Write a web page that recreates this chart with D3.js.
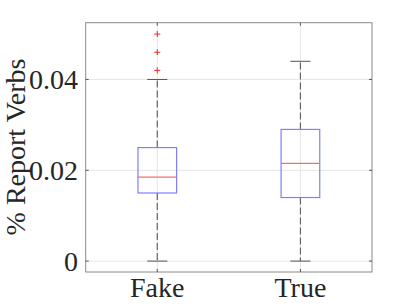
<!DOCTYPE html>
<html><head><meta charset="utf-8">
<script src="https://cdn.jsdelivr.net/npm/d3@7"></script>
<style>body{margin:0;background:#fff}svg{display:block}</style>
</head><body>
<script>
const categories = ["Fake", "True"];
const q1 = [0.0150, 0.0140];
const medians = [0.0185, 0.0215];
const q3 = [0.0250, 0.0290];
const whiskerLow = [0.0, 0.0];
const whiskerHigh = [0.0400, 0.0440];
const outliers = [[0.0420, 0.0460, 0.0500], []];
const yTicks = [0, 0.02, 0.04];
const yTickLabels = ["0", "0.02", "0.04"];

const W = 411, H = 308;
const L = 85.7, R = 372, T = 22.7, B = 272;
const svg = d3.select("body").append("svg").attr("width", W).attr("height", H);
const font = "'Liberation Serif','Times New Roman',serif";
const fs = 28;

const x = d3.scaleLinear().domain([0.5, 2.5]).range([L, R]);
const y = d3.scaleLinear().domain([-0.0024, 0.0525]).range([B, T]);

// grid
const g = svg.append("g");
yTicks.forEach(v => g.append("line").attr("x1", L).attr("x2", R).attr("y1", y(v)).attr("y2", y(v))
  .attr("stroke", "#e6e6e6").attr("stroke-width", 1));
categories.forEach((c, i) => g.append("line").attr("x1", x(i + 1)).attr("x2", x(i + 1)).attr("y1", T).attr("y2", B)
  .attr("stroke", "#e6e6e6").attr("stroke-width", 1));

const boxHalf = 0.135, capHalf = 0.07;
categories.forEach((c, i) => {
  const cx = x(i + 1);
  // whiskers
  svg.append("line").attr("x1", cx).attr("x2", cx).attr("y1", y(q3[i])).attr("y2", y(whiskerHigh[i]))
    .attr("stroke", "#666").attr("stroke-width", 1.2).attr("stroke-dasharray", "7,3");
  svg.append("line").attr("x1", cx).attr("x2", cx).attr("y1", y(q1[i])).attr("y2", y(whiskerLow[i]))
    .attr("stroke", "#666").attr("stroke-width", 1.2).attr("stroke-dasharray", "7,3");
  [whiskerHigh[i], whiskerLow[i]].forEach(v => svg.append("line")
    .attr("x1", x(i + 1 - capHalf)).attr("x2", x(i + 1 + capHalf)).attr("y1", y(v)).attr("y2", y(v))
    .attr("stroke", "#555").attr("stroke-width", 1));
  // box
  svg.append("rect").attr("x", x(i + 1 - boxHalf)).attr("width", x(i + 1 + boxHalf) - x(i + 1 - boxHalf))
    .attr("y", y(q3[i])).attr("height", y(q1[i]) - y(q3[i]))
    .attr("fill", "none").attr("stroke", "#7f7fff").attr("stroke-width", 1.2);
  svg.append("line").attr("x1", x(i + 1 - boxHalf)).attr("x2", x(i + 1 + boxHalf))
    .attr("y1", y(medians[i])).attr("y2", y(medians[i]))
    .attr("stroke", "#f07070").attr("stroke-width", 1.2);
  // outliers
  outliers[i].forEach(v => {
    svg.append("line").attr("x1", cx - 3).attr("x2", cx + 3).attr("y1", y(v)).attr("y2", y(v)).attr("stroke", "#ff2020").attr("stroke-width", 1);
    svg.append("line").attr("x1", cx).attr("x2", cx).attr("y1", y(v) - 3).attr("y2", y(v) + 3).attr("stroke", "#ff2020").attr("stroke-width", 1);
  });
});

// axes box
svg.append("rect").attr("x", L).attr("y", T).attr("width", R - L).attr("height", B - T)
  .attr("fill", "none").attr("stroke", "#8a8a8a").attr("stroke-width", 1);
// ticks
yTicks.forEach(v => {
  svg.append("line").attr("x1", L).attr("x2", L + 3).attr("y1", y(v)).attr("y2", y(v)).attr("stroke", "#555");
  svg.append("line").attr("x1", R).attr("x2", R - 3).attr("y1", y(v)).attr("y2", y(v)).attr("stroke", "#555");
});
categories.forEach((c, i) => {
  svg.append("line").attr("x1", x(i + 1)).attr("x2", x(i + 1)).attr("y1", B).attr("y2", B - 3).attr("stroke", "#555");
  svg.append("line").attr("x1", x(i + 1)).attr("x2", x(i + 1)).attr("y1", T).attr("y2", T + 3).attr("stroke", "#555");
});

// labels
yTicks.forEach((v, k) => svg.append("text").attr("x", 78).attr("y", y(v)).attr("dy", "0.35em")
  .attr("text-anchor", "end").attr("font-family", font).attr("font-size", fs).attr("fill", "#262626").text(yTickLabels[k]));
categories.forEach((c, i) => svg.append("text").attr("x", x(i + 1)).attr("y", 297)
  .attr("text-anchor", "middle").attr("font-family", font).attr("font-size", fs).attr("fill", "#262626").text(c));
svg.append("text").attr("transform", `translate(25,147) rotate(-90)`).attr("text-anchor", "middle")
  .attr("font-family", font).attr("font-size", fs).attr("fill", "#262626").text("% Report Verbs");
</script>
</body></html>
